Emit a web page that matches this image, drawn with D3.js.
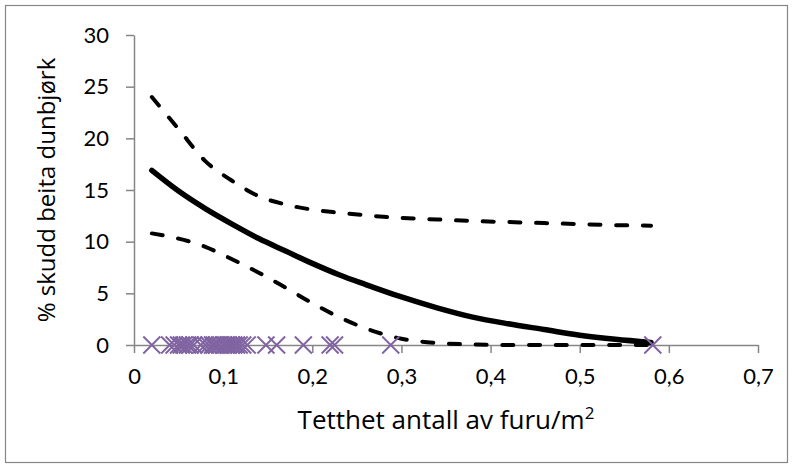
<!DOCTYPE html>
<html>
<head>
<meta charset="utf-8">
<script src="https://cdn.jsdelivr.net/npm/d3@7"></script>
<style>
  body { margin: 0; background: #fff; }
  text { font-family: "Open Sans", Lato, sans-serif; fill: #000; }
  .axis path, .axis line { stroke: #868686; stroke-width: 1.5; }
</style>
</head>
<body>
<div id="chart"></div>
<script>
// density of pine (x) vs % shoots browsed, fitted curve with bounds
const densityX = [0.02, 0.05, 0.08, 0.11, 0.14, 0.17, 0.2, 0.23, 0.26, 0.3, 0.34, 0.38, 0.42, 0.46, 0.5, 0.54, 0.58];
const fitted = [16.9, 14.9, 13.2, 11.7, 10.3, 9.1, 7.9, 6.8, 5.85, 4.65, 3.6, 2.7, 2.05, 1.5, 0.95, 0.55, 0.25];
const upper = [24.0, 20.9, 17.8, 15.9, 14.4, 13.6, 13.1, 12.8, 12.55, 12.3, 12.15, 12.0, 11.9, 11.8, 11.7, 11.6, 11.55];
const lower = [10.8, 10.3, 9.5, 8.3, 7.0, 5.55, 4.05, 2.7, 1.6, 0.6, 0.2, 0.05, 0, 0, 0, 0, 0];

// observed plots (all at 0 %)
const obsX = [0.02, 0.04, 0.045, 0.05, 0.053, 0.056, 0.06, 0.063, 0.067, 0.075, 0.08, 0.084, 0.088, 0.09,
              0.093, 0.096, 0.1, 0.103, 0.106, 0.109, 0.112, 0.115, 0.118, 0.122, 0.127, 0.148, 0.16,
              0.19, 0.22, 0.225, 0.288, 0.582];
const obsY = obsX.map(() => 0);

const xTicks = [0, 0.1, 0.2, 0.3, 0.4, 0.5, 0.6, 0.7];
const yTicks = [0, 5, 10, 15, 20, 25, 30];

const W = 793, H = 468;
const margin = {top: 35, right: 35, bottom: 123, left: 134};

const svg = d3.select("#chart").append("svg")
  .attr("width", W)
  .attr("height", H);

// outer frame
svg.append("rect")
  .attr("x", 5.5).attr("y", 5.5)
  .attr("width", W - 11).attr("height", H - 11)
  .attr("fill", "none")
  .attr("stroke", "#868686")
  .attr("stroke-width", 1.2);

const x = d3.scaleLinear().domain([0, 0.7]).range([margin.left, W - margin.right]);
const y = d3.scaleLinear().domain([0, 30]).range([H - margin.bottom, margin.top]);

const fmt = d => String(d).replace(".", ",");

const xAxis = svg.append("g")
  .attr("class", "axis")
  .attr("transform", `translate(0,${y(0)})`)
  .call(d3.axisBottom(x).tickValues(xTicks).tickFormat(fmt).tickSize(8).tickSizeOuter(0).tickPadding(15));
xAxis.selectAll("text").attr("font-size", 22).attr("fill", "#000").style("font-family", "Lato");

const yAxis = svg.append("g")
  .attr("class", "axis")
  .attr("transform", `translate(${x(0)},0)`)
  .call(d3.axisLeft(y).tickValues(yTicks).tickSize(8).tickSizeOuter(0).tickPadding(17));
yAxis.selectAll("text").attr("font-size", 22).attr("fill", "#000").style("font-family", "Lato");

const line = vals => d3.line()
  .x((d, i) => x(densityX[i]))
  .y(d => y(d))
  .curve(d3.curveMonotoneX)(vals);

svg.append("path")
  .attr("d", line(upper))
  .attr("fill", "none")
  .attr("stroke", "#000")
  .attr("stroke-width", 4)
  .attr("stroke-linecap", "round")
  .attr("stroke-dasharray", "11 15.7");

svg.append("path")
  .attr("d", line(lower))
  .attr("fill", "none")
  .attr("stroke", "#000")
  .attr("stroke-width", 4)
  .attr("stroke-linecap", "round")
  .attr("stroke-dasharray", "11 15.7");

svg.append("path")
  .attr("d", line(fitted))
  .attr("fill", "none")
  .attr("stroke", "#000")
  .attr("stroke-width", 5.5)
  .attr("stroke-linecap", "round");

// X markers
const m = 8.5;
svg.selectAll(".obs")
  .data(obsX)
  .enter()
  .append("path")
  .attr("class", "obs")
  .attr("d", (d, i) => {
    const cx = x(d), cy = y(obsY[i]);
    return `M${cx - m},${cy - m}L${cx + m},${cy + m}M${cx - m},${cy + m}L${cx + m},${cy - m}`;
  })
  .attr("stroke", "#8064A2")
  .attr("stroke-width", 1.9)
  .attr("fill", "none");

// axis titles
const xt = svg.append("text")
  .attr("x", (x(0) + x(0.7)) / 2)
  .attr("y", 429)
  .attr("text-anchor", "middle")
  .attr("font-size", 26);
xt.append("tspan").text("Tetthet antall av furu/m");
xt.append("tspan").attr("font-size", 17).attr("dy", -10).text("2");

svg.append("text")
  .attr("transform", `translate(55,${(y(0) + y(30)) / 2}) rotate(-90)`)
  .attr("text-anchor", "middle")
  .attr("font-size", 24)
  .text("% skudd beita dunbjørk");
</script>
</body>
</html>
